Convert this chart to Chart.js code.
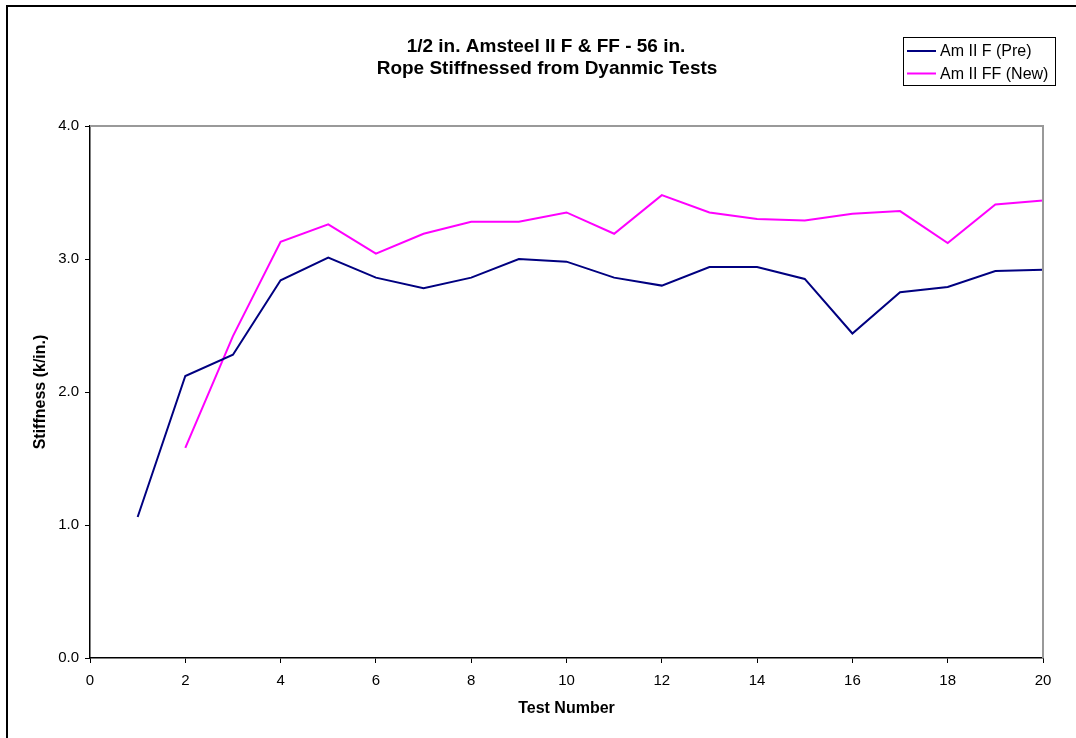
<!DOCTYPE html>
<html>
<head>
<meta charset="utf-8">
<script src="https://cdn.jsdelivr.net/npm/chart.js@4.4.0/dist/chart.umd.min.js"></script>
<style>
  html, body { margin: 0; padding: 0; background: #fff; overflow: hidden; }
  #wrap { position: relative; width: 1076px; height: 738px; overflow: hidden; }
  #frame { position: absolute; left: 6px; top: 5px; width: 1200px; height: 900px; border: 2px solid #000; box-sizing: border-box; }
  canvas { position: absolute; left: 0; top: 0; }
</style>
</head>
<body>
<div id="wrap">
  <div id="frame"></div>
  <canvas id="c" width="1076" height="738"></canvas>
</div>
<script>
const titleLines = ["1/2 in. Amsteel II F & FF - 56 in.", "Rope Stiffnessed from Dyanmic Tests"];
const xAxisTitle = "Test Number";
const yAxisTitle = "Stiffness (k/in.)";

const preLabel = "Am II F (Pre)";
const preX = [1, 2, 3, 4, 5, 6, 7, 8, 9, 10, 11, 12, 13, 14, 15, 16, 17, 18, 19, 20];
const preY = [1.06, 2.12, 2.28, 2.84, 3.01, 2.86, 2.78, 2.86, 3.00, 2.98, 2.86, 2.80, 2.94, 2.94, 2.85, 2.44, 2.75, 2.79, 2.91, 2.92];

const newLabel = "Am II FF (New)";
const newX = [2, 3, 4, 5, 6, 7, 8, 9, 10, 11, 12, 13, 14, 15, 16, 17, 18, 19, 20];
const newY = [1.58, 2.42, 3.13, 3.26, 3.04, 3.19, 3.28, 3.28, 3.35, 3.19, 3.48, 3.35, 3.30, 3.29, 3.34, 3.36, 3.12, 3.41, 3.44];

const xMin = 0, xMax = 20, xStep = 2;
const yMin = 0, yMax = 4, yStep = 1;

const FONT = "'Liberation Sans', Arial, Helvetica, sans-serif";

function pairs(xs, ys) { return xs.map((x, i) => ({ x: x, y: ys[i] })); }

const decorPlugin = {
  id: 'decor',
  afterDraw(chart) {
    const ctx = chart.ctx;
    const a = chart.chartArea;
    ctx.save();
    // gray top/right plot border
    ctx.strokeStyle = '#999999';
    ctx.lineWidth = 2;
    ctx.beginPath();
    ctx.moveTo(a.left, a.top);
    ctx.lineTo(a.right, a.top);
    ctx.lineTo(a.right, a.bottom);
    ctx.stroke();
    // title
    ctx.fillStyle = '#000';
    ctx.font = "bold 19px " + FONT;
    ctx.textAlign = 'center';
    ctx.textBaseline = 'alphabetic';
    ctx.fillText(titleLines[0], 546, 52);
    ctx.fillText(titleLines[1], 547, 74);
    // legend
    const lx = 903, ly = 37, lw = 152, lh = 48;
    ctx.fillStyle = '#fff';
    ctx.fillRect(lx, ly, lw, lh);
    ctx.strokeStyle = '#000';
    ctx.lineWidth = 1;
    ctx.strokeRect(lx + 0.5, ly + 0.5, lw, lh);
    ctx.font = "16px " + FONT;
    ctx.textAlign = 'left';
    ctx.textBaseline = 'middle';
    chart.data.datasets.forEach((ds, i) => {
      const yy = ly + 14 + i * 22.5;
      ctx.strokeStyle = ds.borderColor;
      ctx.lineWidth = 2;
      ctx.beginPath();
      ctx.moveTo(lx + 4, yy);
      ctx.lineTo(lx + 33, yy);
      ctx.stroke();
      ctx.fillStyle = '#000';
      ctx.fillText(ds.label, lx + 37, yy + 1);
    });
    ctx.restore();
  }
};

new Chart(document.getElementById('c'), {
  type: 'line',
  data: {
    datasets: [
      { label: preLabel, data: pairs(preX, preY), borderColor: '#000080', backgroundColor: '#000080', borderWidth: 2, pointRadius: 0, tension: 0, fill: false },
      { label: newLabel, data: pairs(newX, newY), borderColor: '#FF00FF', backgroundColor: '#FF00FF', borderWidth: 2, pointRadius: 0, tension: 0, fill: false }
    ]
  },
  options: {
    responsive: false,
    animation: false,
    devicePixelRatio: 1,
    layout: { padding: { top: 126, right: 33, bottom: 0, left: 0 } },
    plugins: {
      legend: { display: false },
      title: { display: false },
      tooltip: { enabled: false }
    },
    scales: {
      x: {
        type: 'linear',
        min: xMin, max: xMax,
        afterFit(scale) { scale.height = 80; },
        ticks: { stepSize: xStep, color: '#000', font: { family: FONT, size: 15 }, padding: 9, maxRotation: 0 },
        grid: { drawOnChartArea: false, drawTicks: true, tickLength: 5, color: '#000', tickColor: '#000' },
        border: { display: true, color: '#000', width: 1.5 },
        title: { display: true, text: xAxisTitle, color: '#000', font: { family: FONT, size: 16, weight: 'bold' }, padding: { top: 0, bottom: 20 } }
      },
      y: {
        type: 'linear',
        min: yMin, max: yMax,
        afterFit(scale) { scale.width = 90; },
        ticks: { stepSize: yStep, color: '#000', font: { family: FONT, size: 15 }, padding: 6, callback: v => Number(v).toFixed(1) },
        grid: { drawOnChartArea: false, drawTicks: true, tickLength: 5, color: '#000', tickColor: '#000' },
        border: { display: true, color: '#000', width: 1.5 },
        title: { display: true, text: yAxisTitle, color: '#000', font: { family: FONT, size: 16, weight: 'bold' }, padding: { top: 31, bottom: 0 } }
      }
    }
  },
  plugins: [decorPlugin]
});
</script>
</body>
</html>
